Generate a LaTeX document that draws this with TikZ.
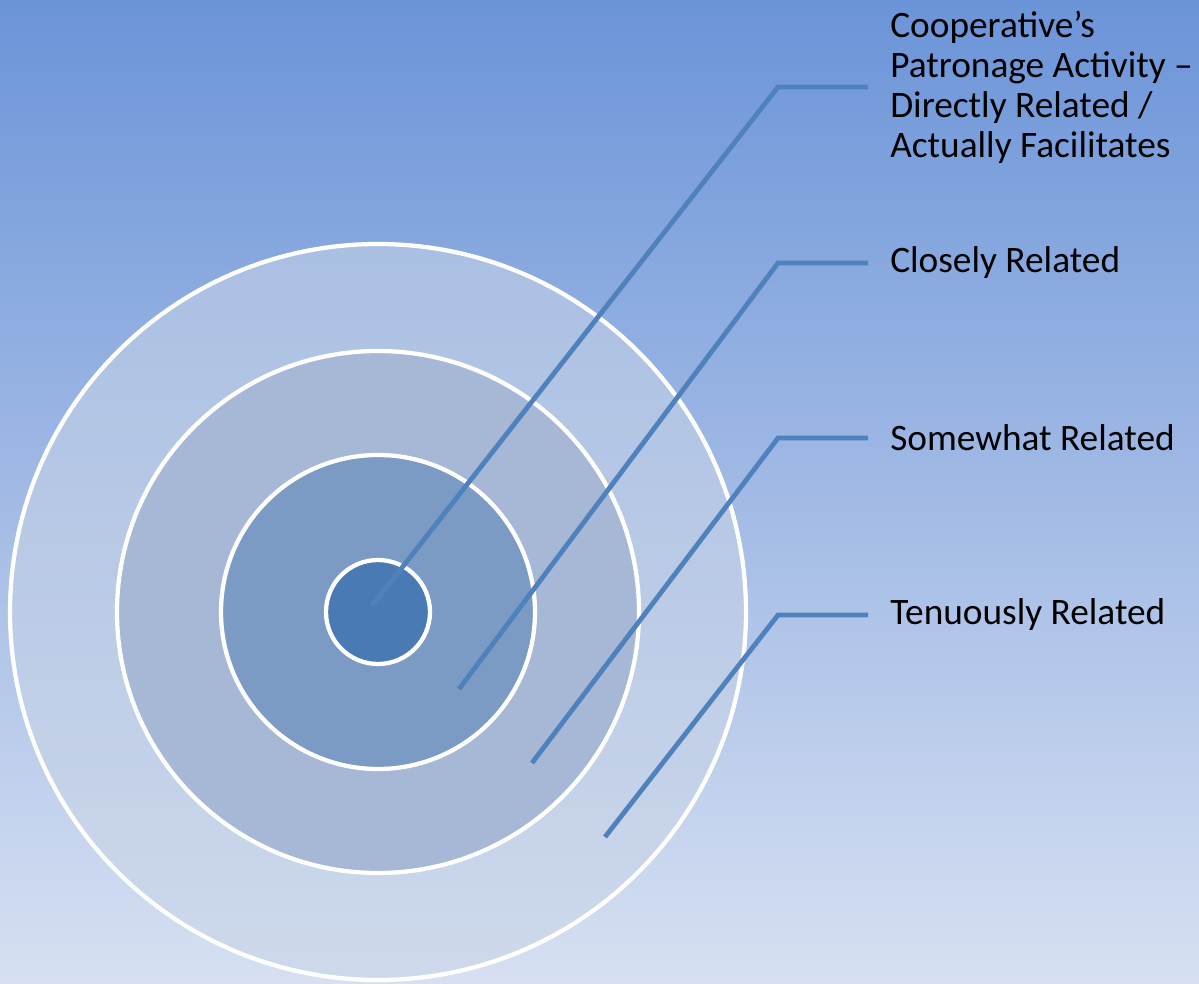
\documentclass[tikz,border=0pt]{standalone}
\usepackage{fontspec}
\setmainfont{Carlito}
\usetikzlibrary{positioning, calc}

\definecolor{bgtop}{RGB}{107,148,216}
\definecolor{bgbot}{RGB}{215,224,242}
\definecolor{ringout}{RGB}{200,212,230}
\definecolor{ringtwo}{RGB}{167,184,215}
\definecolor{ringthree}{RGB}{124,155,196}
\definecolor{core}{RGB}{74,122,180}
\definecolor{leadblue}{RGB}{79,129,189}

\tikzset{
    ring/.style={draw=white, line width=3.2pt},
    leader/.style={draw=leadblue, line width=3.6pt, shorten >=16.5pt},
    tier/.style={anchor=west, inner sep=0pt, align=left, font=\fontsize{28pt}{30pt}\selectfont}
}

\begin{document}
\begin{tikzpicture}[x=0.75pt, y=-0.75pt]
        % background
        \shade[top color=bgtop, bottom color=bgbot] (0,0) rectangle (1199,984);

        % centre of the target
        \coordinate (ctr) at (378,612);

        % rings, outermost first
        \fill[ringout, opacity=0.55] (ctr) circle (368);
        \draw[ring] (ctr) circle (368);
        \foreach \r/\col in {261/ringtwo, 157/ringthree, 52/core}
            \draw[ring, fill=\col] (ctr) circle (\r);

        % tier labels
        \node[tier] (tier1) at (890,87) {Cooperative’s\\Patronage Activity --\\Directly Related /\\Actually Facilitates};
        \node[tier] (tier2) at (890,263) {Closely Related};
        \node[tier] (tier3) at (890,438) {Somewhat Related};
        \node[tier] (tier4) at (890,615) {Tenuously Related};

        % leader start points and bend column
        \coordinate (s1) at (372,606);
        \coordinate (s2) at (459,689);
        \coordinate (s3) at (532,763);
        \coordinate (s4) at (605,837);
        \coordinate (bend) at (778,0);

        % leaders
        \foreach \s/\t in {s1/tier1, s2/tier2, s3/tier3, s4/tier4}
            \draw[leader] (\s) -- (bend |- \t.west) -- (\t.west);
\end{tikzpicture}
\end{document}
